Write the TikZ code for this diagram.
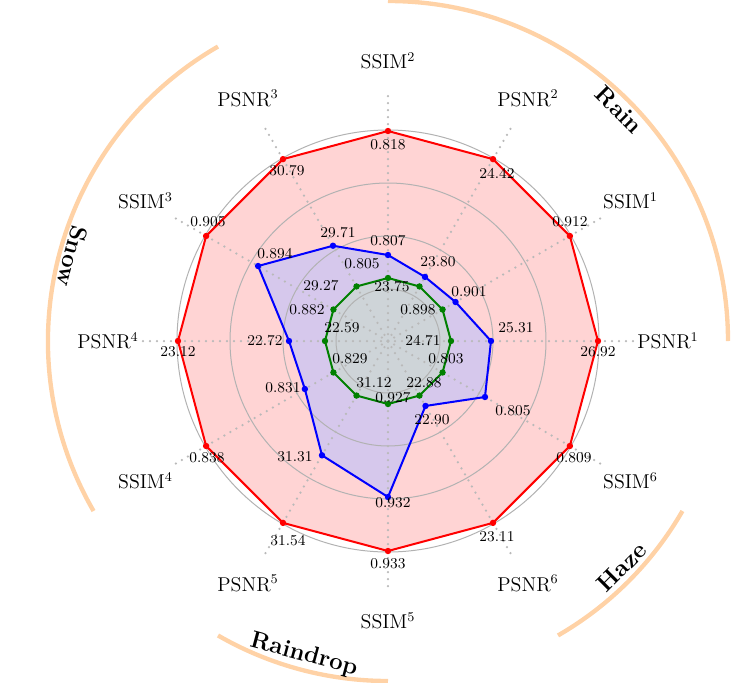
\documentclass[tikz,border=0pt]{standalone}
\begin{document}
\begin{tikzpicture}[x=0.6pt,y=0.6pt,
  grid/.style={gray!60,line width=0.6pt},
  axisline/.style={gray!55,line width=1.5pt,dash pattern=on 0pt off 4.2pt,line cap=round},
  axlab/.style={font=\large},
  val/.style={font=\small,inner sep=1pt},
  arcst/.style={orange!35,line width=2.6pt},
  cat/.style={font=\Large\bfseries},
  dotr/.style={fill=red,draw=none},
  dotb/.style={fill=blue,draw=none},
  dotg/.style={fill=green!50!black,draw=none}]
\definecolor{lav}{RGB}{214,200,236}
\definecolor{gfill}{RGB}{206,212,216}
\useasboundingbox (-388,-341) rectangle (360,341);
\coordinate (c) at (0,0);
\foreach \a/\t [count=\i] in {0/PSNR$^1$,30/SSIM$^1$,60/PSNR$^2$,90/SSIM$^2$,120/PSNR$^3$,150/SSIM$^3$,180/PSNR$^4$,210/SSIM$^4$,240/PSNR$^5$,270/SSIM$^5$,300/PSNR$^6$,330/SSIM$^6$}{
  \coordinate (e\i) at (\a:250);
  \node[axlab] (ax\i) at (\a:280) {\t};
}
\foreach \i/\a in {1/0,2/30,3/60,4/90,5/120,6/150,7/180,8/210,9/240,10/270,11/300,12/330} \coordinate (r\i) at (\a:210);
\fill[red!17] (r1)--(r2)--(r3)--(r4)--(r5)--(r6)--(r7)--(r8)--(r9)--(r10)--(r11)--(r12)--cycle;
\foreach \i/\a/\r in {1/0/103,2/30/78,3/60/74,4/90/86,5/120/110,6/150/150,7/180/99,8/210/96,9/240/132,10/270/156,11/300/75,12/330/112} \coordinate (b\i) at (\a:\r);
\fill[lav] (b1)--(b2)--(b3)--(b4)--(b5)--(b6)--(b7)--(b8)--(b9)--(b10)--(b11)--(b12)--cycle;
\foreach \i/\a in {1/0,2/30,3/60,4/90,5/120,6/150,7/180,8/210,9/240,10/270,11/300,12/330} \coordinate (g\i) at (\a:63);
\fill[gfill] (g1)--(g2)--(g3)--(g4)--(g5)--(g6)--(g7)--(g8)--(g9)--(g10)--(g11)--(g12)--cycle;
\foreach \r in {52,105,158,211} \draw[grid] (c) circle (\r);
\foreach \i in {1,...,12} \draw[axisline] (c) -- (e\i);
\draw[red,line width=1.2pt] (r1)--(r2)--(r3)--(r4)--(r5)--(r6)--(r7)--(r8)--(r9)--(r10)--(r11)--(r12)--cycle;
\draw[blue,line width=1.2pt] (b1)--(b2)--(b3)--(b4)--(b5)--(b6)--(b7)--(b8)--(b9)--(b10)--(b11)--(b12)--cycle;
\draw[green!50!black,line width=1.2pt] (g1)--(g2)--(g3)--(g4)--(g5)--(g6)--(g7)--(g8)--(g9)--(g10)--(g11)--(g12)--cycle;
\foreach \i in {1,...,12}{
  \fill[dotr] (r\i) circle (3.2);
  \fill[dotb] (b\i) circle (3.2);
  \fill[dotg] (g\i) circle (3.2);
}
\node[val] (vr1) at (210,-11) {26.92};
\node[val] (vr2) at (182,119) {0.912};
\node[val] (vr3) at (109,168) {24.42};
\node[val] (vr4) at (0,196) {0.818};
\node[val] (vr5) at (-101,170) {30.79};
\node[val] (vr6) at (-180,119) {0.905};
\node[val] (vr7) at (-210,-11) {23.12};
\node[val] (vr8) at (-181,-117) {0.838};
\node[val] (vr9) at (-100,-200) {31.54};
\node[val] (vr10) at (0,-223) {0.933};
\node[val] (vr11) at (109,-196) {23.11};
\node[val] (vr12) at (186,-117) {0.809};
\node[val] (vb1) at (128,13) {25.31};
\node[val] (vb2) at (81,49) {0.901};
\node[val] (vb3) at (50,79) {23.80};
\node[val] (vb4) at (0,100) {0.807};
\node[val] (vb5) at (-50,108) {29.71};
\node[val] (vb6) at (-113,87) {0.894};
\node[val] (vb7) at (-123,0) {22.72};
\node[val] (vb8) at (-105,-47) {0.831};
\node[val] (vb9) at (-93,-116) {31.31};
\node[val] (vb10) at (5,-162) {0.932};
\node[val] (vb11) at (44,-79) {22.90};
\node[val] (vb12) at (125,-70) {0.805};
\node[val] (vg1) at (35,0) {24.71};
\node[val] (vg2) at (30,31) {0.898};
\node[val] (vg3) at (4,54) {23.75};
\node[val] (vg4) at (-26,77) {0.805};
\node[val] (vg5) at (-67,55) {29.27};
\node[val] (vg6) at (-81,31) {0.882};
\node[val] (vg7) at (-46,13) {22.59};
\node[val] (vg8) at (-38,-18) {0.829};
\node[val] (vg9) at (-14,-42) {31.12};
\node[val] (vg10) at (5,-57) {0.927};
\node[val] (vg11) at (36,-42) {22.88};
\node[val] (vg12) at (58,-18) {0.803};
\draw[arcst] (90:340) arc[start angle=90,end angle=0,radius=340];
\draw[arcst] (120:340) arc[start angle=120,end angle=210,radius=340];
\draw[arcst] (240:340) arc[start angle=240,end angle=270,radius=340];
\draw[arcst] (300:340) arc[start angle=300,end angle=330,radius=340];
\node[cat,rotate=-45] (rain) at (45:327) {Rain};
\node[cat,rotate=-105] (snow) at (165:327) {Snow};
\node[cat,rotate=-15] (raindrop) at (255:325) {Raindrop};
\node[cat,rotate=45] (haze) at (316:325) {Haze};
\end{tikzpicture}
\end{document}
